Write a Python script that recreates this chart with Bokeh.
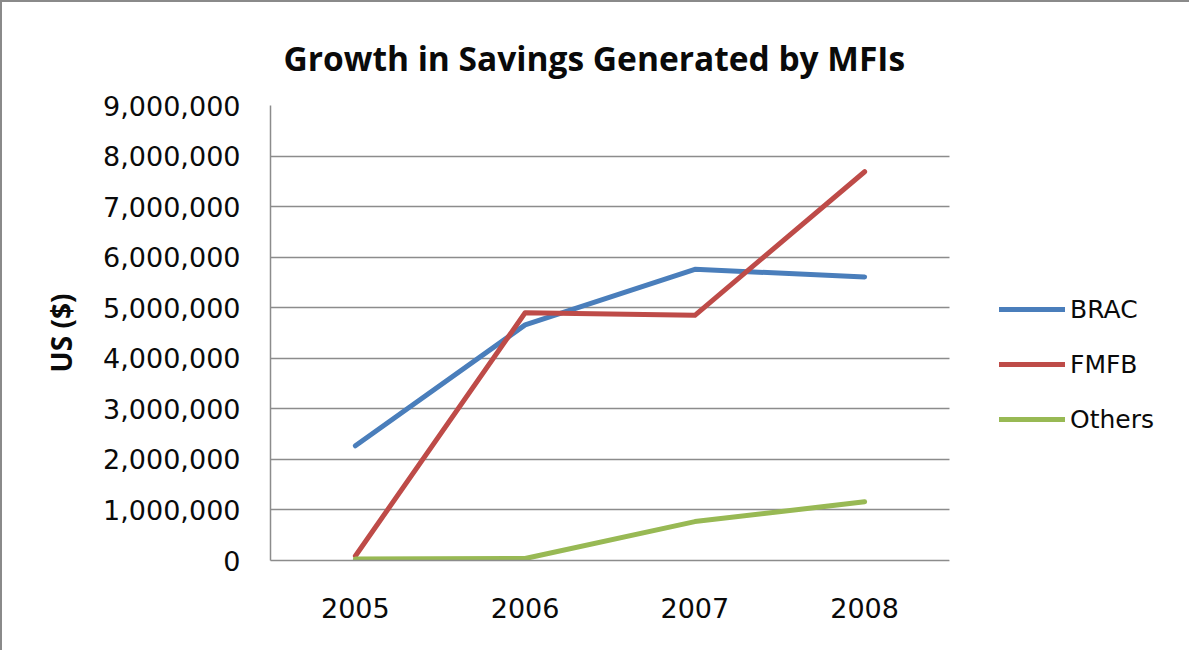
from bokeh.plotting import figure
from bokeh.models import (Legend, LegendItem, NumeralTickFormatter, FixedTicker,
                          Range1d, BoxAnnotation)
from bokeh.embed import file_html
from bokeh.resources import INLINE

years = ["2005", "2006", "2007", "2008"]
brac = [2270000, 4660000, 5760000, 5610000]
fmfb = [90000, 4900000, 4850000, 7690000]
others = [30000, 40000, 770000, 1160000]
y_ticks = [0, 1000000, 2000000, 3000000, 4000000, 5000000, 6000000, 7000000, 8000000, 9000000]

# category slots: each year sits in the middle of its slot
x_pos = [i + 0.5 for i in range(len(years))]
n_slots = len(years)

FONT = "Open Sans"
TFONT = "DejaVu Sans"
GRID = "#8c8c8c"
TXT = "#0a0a0a"

# frame spans to the right edge so the legend (inside the frame) is not clipped;
# the part right of the last slot is blanked out
x_end = n_slots * (1199 - 278) / (957 - 278)

p = figure(x_range=Range1d(0, x_end), y_range=Range1d(0, 9000000),
           width=1189, height=650, output_backend="svg", toolbar_location=None,
           min_border_left=268, min_border_right=0, min_border_top=103,
           min_border_bottom=92)
p.styles = {"border-left": "2px solid #8a8a8a", "border-top": "2px solid #8a8a8a"}
p.outline_line_color = None
p.background_fill_color = "white"
p.border_fill_color = "white"

p.title.text = "Growth in Savings Generated by MFIs"
p.title.text_font = FONT
p.title.text_font_style = "bold"
p.title.text_font_size = "33.5px"
p.title.text_color = TXT
p.title.align = "left"
p.title.vertical_align = "top"
p.title.offset = 13
p.title.standoff = 45

l1 = p.line(x=x_pos, y=brac, line_color="#4A7EBB", line_width=5, line_cap="round", line_join="round")
l2 = p.line(x=x_pos, y=fmfb, line_color="#BE4B48", line_width=5, line_cap="round", line_join="round")
l3 = p.line(x=x_pos, y=others, line_color="#98B954", line_width=5, line_cap="round", line_join="round")

p.xgrid.grid_line_color = None
p.ygrid.grid_line_color = GRID
p.ygrid.grid_line_width = 1.5

p.yaxis.ticker = FixedTicker(ticks=y_ticks)
p.yaxis.formatter = NumeralTickFormatter(format="0,0")
p.yaxis.axis_label = "US ($)"
p.yaxis.axis_label_text_font = FONT
p.yaxis.axis_label_text_font_style = "bold"
p.yaxis.axis_label_text_font_size = "28px"
p.yaxis.axis_label_text_color = TXT
p.yaxis.axis_label_standoff = 20

p.xaxis.ticker = FixedTicker(ticks=x_pos)
p.xaxis.major_label_overrides = {x: y for x, y in zip(x_pos, years)}
p.xaxis.bounds = (0, n_slots)

for ax in (p.xaxis[0], p.yaxis[0]):
    ax.axis_line_color = GRID
    ax.axis_line_width = 1.5
    ax.major_tick_line_color = None
    ax.minor_tick_line_color = None
    ax.major_tick_out = 0
    ax.major_tick_in = 0
    ax.major_label_text_font = TFONT
    ax.major_label_text_font_size = "27px"
    ax.major_label_text_color = TXT
p.yaxis.major_label_standoff = 30
p.xaxis.major_label_standoff = 37

blank = BoxAnnotation(left=n_slots, fill_color="white", fill_alpha=1.0, line_color=None)
p.add_layout(blank)

legend = Legend(items=[LegendItem(label="BRAC", renderers=[l1]),
                       LegendItem(label="FMFB", renderers=[l2]),
                       LegendItem(label="Others", renderers=[l3])],
                location=(729, 123))
legend.label_text_font = TFONT
legend.label_text_font_size = "25px"
legend.label_text_color = TXT
legend.glyph_width = 66
legend.glyph_height = 36
legend.label_height = 36
legend.label_standoff = 5
legend.spacing = 19
legend.padding = 0
legend.margin = 0
legend.border_line_color = None
legend.background_fill_alpha = 0
p.add_layout(legend, "center")

open("out.html", "w").write(file_html(p, INLINE))
